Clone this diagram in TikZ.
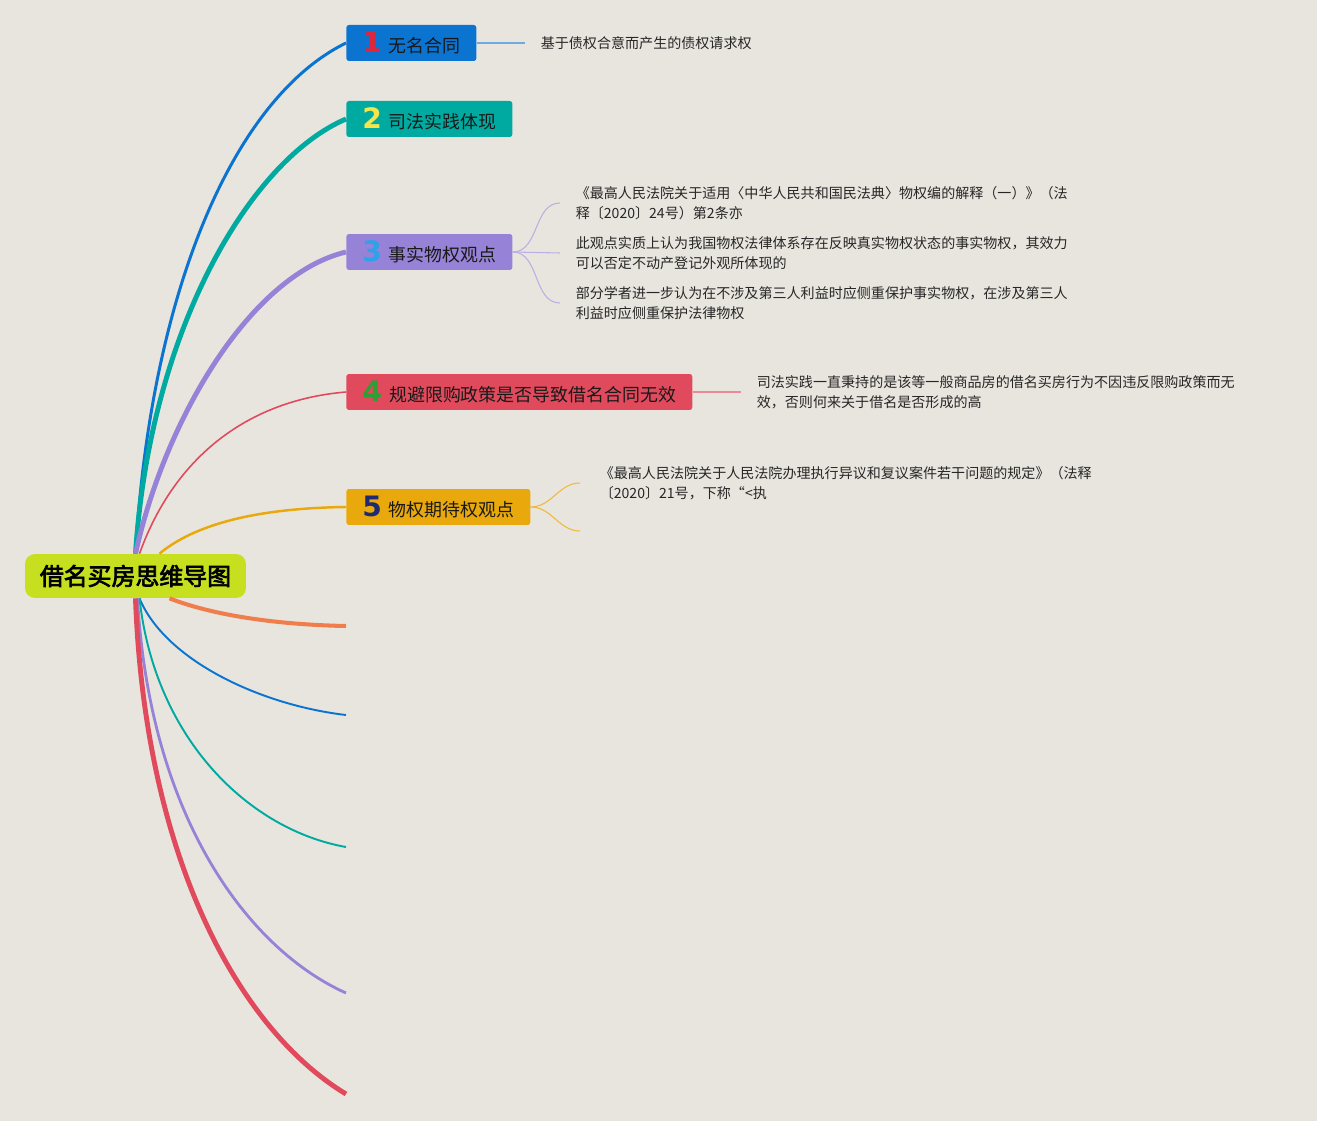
\documentclass[tikz,border=0pt]{standalone}
\usepackage{fontspec}
\setmainfont{Noto Sans CJK SC}
\newfontfamily\numfont{DejaVu Sans}
\newfontfamily\rootfont{Noto Sans CJK SC}[FakeBold=3]
\definecolor{bgc}{HTML}{E8E5DE}
\definecolor{rootc}{HTML}{C6E01F}
\definecolor{bluec}{HTML}{0B74D1}
\definecolor{tealc}{HTML}{00AAA0}
\definecolor{purplec}{HTML}{9682D6}
\definecolor{redc}{HTML}{E04A5C}
\definecolor{amberc}{HTML}{E9A80C}
\definecolor{orangec}{HTML}{F07E4C}
\definecolor{numred}{HTML}{E1263C}
\definecolor{numyellow}{HTML}{F5E54C}
\definecolor{numblue}{HTML}{2EA2E8}
\definecolor{numgreen}{HTML}{2E9E35}
\definecolor{numnavy}{HTML}{1F2B70}
\newcommand\topicnum[2]{{\numfont\bfseries\fontsize{16}{16}\selectfont\color{#1}#2}\hspace{4pt}}

\begin{document}
\begin{tikzpicture}[x=0.02cm,y=-0.02cm,
                    topic/.style={rectangle,rounded corners=1.5pt,anchor=west,minimum height=0.72cm,
                                  inner sep=0pt,text=black!90,font=\fontsize{10.2}{12}\selectfont},
                    leaf/.style={anchor=west,align=left,inner sep=0pt,outer xsep=9pt,outer ysep=0pt,
                                 text=black!85,font=\fontsize{8}{11.34}\selectfont},
                    twig/.style={line width=0.6pt}]
  \fill[bgc] (0,0) rectangle (1317,1121);

  % central topic and main topics
  \node[rectangle,rounded corners=0.2cm,fill=rootc,minimum width=4.42cm,minimum height=0.88cm,
        font=\rootfont\fontsize{13.6}{14}\selectfont] (root) at (135.5,576) {借名买房思维导图};
  \node[topic,fill=bluec,minimum width=2.6cm] (t1) at (346,43) {\topicnum{numred}{1}无名合同};
  \node[topic,fill=tealc,minimum width=3.32cm] (t2) at (346,119) {\topicnum{numyellow}{2}司法实践体现};
  \node[topic,fill=purplec,minimum width=3.32cm] (t3) at (346,252) {\topicnum{numblue}{3}事实物权观点};
  \node[topic,fill=redc,minimum width=6.92cm] (t4) at (346,392) {\topicnum{numgreen}{4}规避限购政策是否导致借名合同无效};
  \node[topic,fill=amberc,minimum width=3.68cm] (t5) at (346,507) {\topicnum{numnavy}{5}物权期待权观点};
  \coordinate (e6) at (346,626);
  \coordinate (e7) at (346,715);
  \coordinate (e8) at (346,847);
  \coordinate (e9) at (346,993);
  \coordinate (e10) at (346,1094);

  % subtopics
  \node[leaf] (l1) at (525,43) {基于债权合意而产生的债权请求权};
  \node[leaf] (l3a) at (560,203) {《最高人民法院关于适用〈中华人民共和国民法典〉物权编的解释（一）》（法\\释〔2020〕24号）第2条亦};
  \node[leaf] (l3b) at (560,253) {此观点实质上认为我国物权法律体系存在反映真实物权状态的事实物权，其效力\\可以否定不动产登记外观所体现的};
  \node[leaf] (l3c) at (560,303) {部分学者进一步认为在不涉及第三人利益时应侧重保护事实物权，在涉及第三人\\利益时应侧重保护法律物权};
  \node[leaf] (l4) at (741,392) {司法实践一直秉持的是该等一般商品房的借名买房行为不因违反限购政策而无\\效，否则何来关于借名是否形成的高};
  \node[leaf] (l5) at (584,483) {《最高人民法院关于人民法院办理执行异议和复议案件若干问题的规定》（法释\\〔2020〕21号，下称“<执};
  \coordinate (l5b) at (580,531);

  % main branches
  \draw[bluec,line width=1.7pt] (root.north) .. controls (150,300) and (230,100) .. (t1.west);
  \draw[tealc,line width=2.8pt] (root.north) .. controls (150,330) and (250,160) .. (t2.west);
  \draw[purplec,line width=2.8pt] (root.north) .. controls (165,420) and (250,275) .. (t3.west);
  \draw[redc,line width=0.9pt] ([xshift=0.08cm]root.north) .. controls (175,455) and (250,400) .. (t4.west);
  \draw[amberc,line width=1.4pt] ([xshift=0.48cm]root.north) .. controls (200,520) and (270,508) .. (t5.west);
  \draw[orangec,line width=2.3pt] ([xshift=0.68cm]root.south) .. controls (220,618) and (290,625) .. (e6);
  \draw[bluec,line width=1.1pt] ([xshift=0.08cm]root.south) .. controls (165,660) and (260,705) .. (e7);
  \draw[tealc,line width=1.1pt] ([xshift=0.08cm]root.south) .. controls (155,740) and (250,830) .. (e8);
  \draw[purplec,line width=1.6pt] ([xshift=0.04cm]root.south) .. controls (150,820) and (250,950) .. (e9);
  \draw[redc,line width=2.8pt] (root.south) .. controls (145,860) and (240,1030) .. (e10);

  % twigs to subtopics
  \draw[twig,bluec!60] (t1.east) -- (l1.west);
  \draw[twig,purplec!65] (t3.east) to[out=0,in=180] (l3a.west);
  \draw[twig,purplec!65] (t3.east) -- (l3b.west);
  \draw[twig,purplec!65] (t3.east) to[out=0,in=180] (l3c.west);
  \draw[twig,redc!65] (t4.east) -- (l4.west);
  \draw[twig,amberc!80] (t5.east) to[out=0,in=180] ([xshift=-0.08cm]l5.west);
  \draw[twig,amberc!80] (t5.east) to[out=0,in=180] (l5b);
\end{tikzpicture}
\end{document}
